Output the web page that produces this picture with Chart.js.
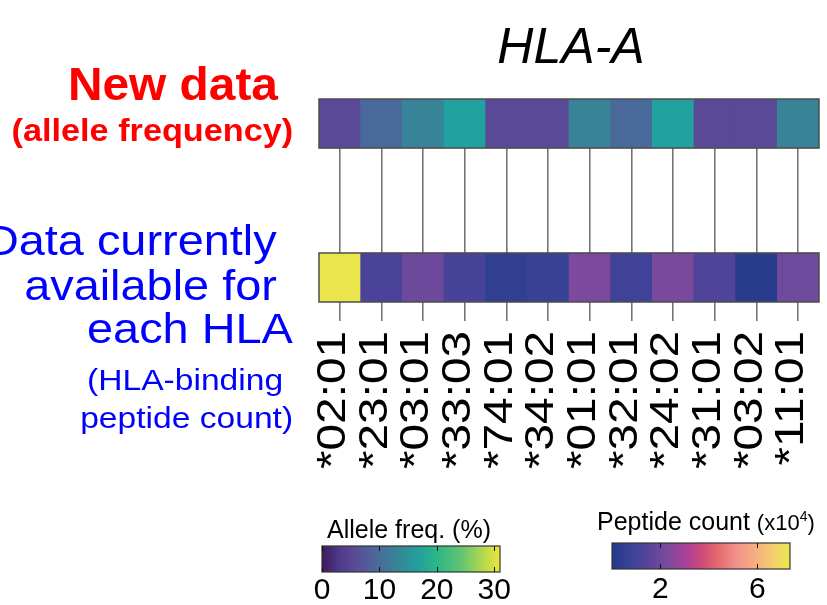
<!DOCTYPE html>
<html>
<head>
<meta charset="utf-8">
<script src="https://cdn.jsdelivr.net/npm/chart.js@4.4.0/dist/chart.umd.min.js"></script>
<style>
  body { margin: 0; background: #fff; }
  #fig { position: relative; width: 827px; height: 605px; overflow: hidden; font-family: "Liberation Sans", Arial, sans-serif; }
  #fig canvas { position: absolute; }
  .lbl { position: absolute; white-space: nowrap; line-height: 1; transform-origin: right center; }
  .red { color: #ff0000; font-weight: bold; }
  .blue { color: #0000ff; }
</style>
</head>
<body>
<div id="fig">
  <canvas id="heat" width="827" height="480" style="left:0;top:0"></canvas>
  <canvas id="cbFreq" width="230" height="65" style="left:300px;top:540px"></canvas>
  <canvas id="cbCount" width="247" height="68" style="left:580px;top:537px"></canvas>

  <div class="lbl" style="left:471px;width:200px;text-align:center;top:21px;font-size:50px;font-style:italic;">HLA-A</div>

  <div class="lbl red" style="right:549px;top:61px;font-size:46px;transform:scaleX(1.04)">New data</div>
  <div class="lbl red" style="right:534px;top:114px;font-size:32px;transform:scaleX(1.07)">(allele frequency)</div>

  <div class="lbl blue" style="right:550px;top:219px;font-size:43px;transform:scaleX(1.09)">Data currently</div>
  <div class="lbl blue" style="right:550px;top:264px;font-size:43px;transform:scaleX(1.09)">available for</div>
  <div class="lbl blue" style="right:534px;top:307px;font-size:43px;transform:scaleX(1.09)">each HLA</div>
  <div class="lbl blue" style="right:544px;top:365px;font-size:30px;transform:scaleX(1.12)">(HLA-binding</div>
  <div class="lbl blue" style="right:534px;top:403px;font-size:30px;transform:scaleX(1.12)">peptide count)</div>

  <div class="lbl" style="left:309px;width:200px;text-align:center;top:517px;font-size:25px;">Allele freq. (%)</div>
  <div class="lbl" style="left:597px;top:509px;font-size:25px;">Peptide count <span style="font-size:22px">(x10<span style="font-size:14px;position:relative;top:-9px">4</span>)</span></div>
</div>

<script>
// HLA-A alleles
var ALLELES = ['*02:01', '*23:01', '*03:01', '*33:03', '*74:01', '*34:02', '*01:01', '*32:01', '*24:02', '*31:01', '*03:02', '*11:01'];
// new data, allele frequency (%)
var ALLELE_FREQ = [5.5, 9.5, 13, 17, 5.5, 5.5, 13, 9.5, 17, 5.5, 5.5, 13];
// currently available, HLA-binding peptide count (x10^4)
var PEPTIDE_COUNT = [7.3, 1.2, 2.0, 1.1, 0.45, 0.65, 2.3, 0.9, 2.25, 1.3, 0.2, 2.05];

var FREQ_MIN = 0, FREQ_MAX = 31;
var COUNT_MIN = 0, COUNT_MAX = 7.35;
var FREQ_TICKS = [0, 10, 20, 30];
var COUNT_TICKS = [2, 6];

var FREQ_STOPS = [
  [0.00, '#3d1a5c'], [0.10, '#4f3a8a'], [0.18, '#5a4a96'], [0.31, '#4a6a9b'],
  [0.42, '#378397'], [0.55, '#22a29e'], [0.65, '#2cb886'], [0.78, '#60c472'],
  [0.90, '#b0d850'], [1.00, '#ece63a']
];
var COUNT_STOPS = [
  [0.00, '#22398a'], [0.10, '#3a4296'], [0.20, '#55449a'], [0.30, '#764a9c'],
  [0.42, '#ac3f98'], [0.50, '#cc4a7c'], [0.58, '#e2646c'], [0.70, '#f2928a'],
  [0.82, '#f8b27e'], [0.92, '#f2d46a'], [1.00, '#e9e64a']
];

var FONT = '"Liberation Sans", Arial, sans-serif';

function hex2rgb(h) {
  return [parseInt(h.substr(1, 2), 16), parseInt(h.substr(3, 2), 16), parseInt(h.substr(5, 2), 16)];
}
function cmap(stops, t) {
  t = Math.max(0, Math.min(1, t));
  for (var i = 1; i < stops.length; i++) {
    if (t <= stops[i][0]) {
      var a = stops[i - 1], b = stops[i];
      var f = (t - a[0]) / (b[0] - a[0]);
      var ca = hex2rgb(a[1]), cb = hex2rgb(b[1]);
      var c = ca.map(function (v, k) { return Math.round(v + (cb[k] - v) * f); });
      return 'rgb(' + c.join(',') + ')';
    }
  }
  return stops[stops.length - 1][1];
}

// rows of the heatmap on the hidden y scale
var Y_MAX = 4.143;
var ROW_TOP = [3.143, 4.143];
var ROW_BOTTOM = [0, 1];

var rowOutline = {
  id: 'rowOutline',
  afterDatasetsDraw: function (chart) {
    var ctx = chart.ctx;
    ctx.save();
    ctx.strokeStyle = '#4d4d4d';
    ctx.lineWidth = 1.5;
    chart.data.datasets.forEach(function (ds, i) {
      var els = chart.getDatasetMeta(i).data;
      var f = els[0], l = els[els.length - 1];
      var left = f.x - f.width / 2, right = l.x + l.width / 2;
      var top = Math.min(f.y, f.base), bottom = Math.max(f.y, f.base);
      ctx.strokeRect(left, top, right - left, bottom - top);
    });
    ctx.restore();
  }
};

// tall rotated allele labels under the ticks
var alleleLabels = {
  id: 'alleleLabels',
  afterDraw: function (chart) {
    var ctx = chart.ctx, xs = chart.scales.x;
    ctx.save();
    ctx.font = '41px ' + FONT;
    ctx.fillStyle = '#000';
    var w = 0;
    ALLELES.forEach(function (s) { w = Math.max(w, ctx.measureText(s).width); });
    var sx = 138 / w;
    ALLELES.forEach(function (s, i) {
      var px = xs.getPixelForTick(i);
      ctx.save();
      ctx.translate(px + 5, xs.top + 29);
      ctx.rotate(-Math.PI / 2);
      ctx.scale(sx, 1);
      ctx.textAlign = 'right';
      ctx.textBaseline = 'alphabetic';
      ctx.fillText(s, 0, 0);
      ctx.restore();
    });
    ctx.restore();
  }
};

new Chart(document.getElementById('heat'), {
  type: 'bar',
  data: {
    labels: ALLELES,
    datasets: [
      {
        label: 'Allele freq. (%)',
        data: ALLELE_FREQ.map(function () { return ROW_TOP; }),
        backgroundColor: ALLELE_FREQ.map(function (v) { return cmap(FREQ_STOPS, (v - FREQ_MIN) / (FREQ_MAX - FREQ_MIN)); })
      },
      {
        label: 'Peptide count',
        data: PEPTIDE_COUNT.map(function () { return ROW_BOTTOM; }),
        backgroundColor: PEPTIDE_COUNT.map(function (v) { return cmap(COUNT_STOPS, (v - COUNT_MIN) / (COUNT_MAX - COUNT_MIN)); })
      }
    ]
  },
  options: {
    responsive: false,
    animation: false,
    events: [],
    layout: { padding: { left: 319, right: 8, top: 99, bottom: 0 } },
    plugins: { legend: { display: false }, tooltip: { enabled: false } },
    datasets: { bar: { barPercentage: 1, categoryPercentage: 1, grouped: false, borderWidth: 0 } },
    scales: {
      x: {
        offset: true,
        grid: { offset: false, color: '#767676', lineWidth: 1.6, tickLength: 19 },
        border: { display: false },
        ticks: { display: false },
        afterFit: function (s) { s.height = 178; }
      },
      y: { display: false, min: 0, max: Y_MAX }
    }
  },
  plugins: [rowOutline, alleleLabels]
});

var colorbarFill = {
  id: 'colorbarFill',
  beforeDraw: function (chart, args, opts) {
    var ctx = chart.ctx, a = chart.chartArea, xs = chart.scales.x;
    ctx.save();
    var g = ctx.createLinearGradient(a.left, 0, a.right, 0);
    opts.stops.forEach(function (s) { g.addColorStop(s[0], s[1]); });
    ctx.fillStyle = g;
    ctx.fillRect(a.left, a.top, a.right - a.left, a.bottom - a.top);
    ctx.strokeStyle = '#333';
    ctx.lineWidth = 1.2;
    ctx.strokeRect(a.left, a.top, a.right - a.left, a.bottom - a.top);
    ctx.lineWidth = 1;
    ctx.strokeStyle = '#111';
    opts.ticks.forEach(function (v) {
      var px = Math.round(xs.getPixelForValue(v)) + 0.5;
      ctx.beginPath();
      ctx.moveTo(px, a.top); ctx.lineTo(px, a.top + 5);
      ctx.moveTo(px, a.bottom - 5); ctx.lineTo(px, a.bottom);
      ctx.stroke();
    });
    ctx.restore();
  }
};

function colorbar(id, stops, min, max, ticks, pad, axisH, tickPad) {
  return new Chart(document.getElementById(id), {
    type: 'scatter',
    data: { datasets: [] },
    options: {
      responsive: false,
      animation: false,
      events: [],
      layout: { padding: pad },
      plugins: { legend: { display: false }, tooltip: { enabled: false }, colorbarFill: { stops: stops, ticks: ticks } },
      scales: {
        x: {
          type: 'linear', min: min, max: max,
          afterBuildTicks: function (s) { s.ticks = ticks.map(function (v) { return { value: v }; }); },
          grid: { display: false, drawTicks: false },
          border: { display: false },
          ticks: { color: '#000', font: { family: FONT, size: 30 }, padding: tickPad, maxRotation: 0, autoSkip: false },
          afterFit: function (s) { s.height = axisH; }
        },
        y: { display: false, min: 0, max: 1 }
      }
    },
    plugins: [colorbarFill]
  });
}

colorbar('cbFreq', FREQ_STOPS, FREQ_MIN, FREQ_MAX, FREQ_TICKS, { left: 22, right: 30, top: 6, bottom: 0 }, 33, 1);
colorbar('cbCount', COUNT_STOPS, COUNT_MIN, COUNT_MAX, COUNT_TICKS, { left: 32, right: 37, top: 6, bottom: 0 }, 36, 3);
</script>
</body>
</html>
